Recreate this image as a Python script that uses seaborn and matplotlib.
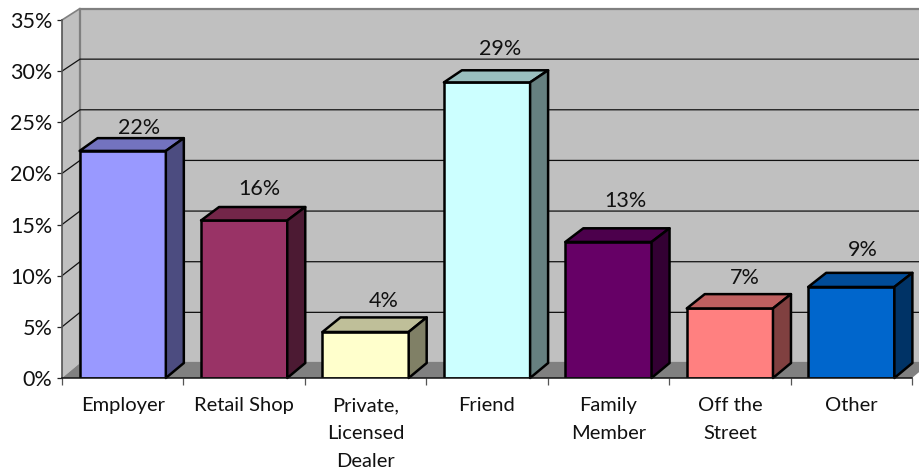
import matplotlib
matplotlib.use('Agg')
import matplotlib.pyplot as plt
from matplotlib.patches import Polygon
import pandas as pd
import seaborn as sns

# values
sources = ['Employer', 'Retail Shop', 'Private,\nLicensed\nDealer', 'Friend',
           'Family\nMember', 'Off the\nStreet', 'Other']
heights = [22.2, 15.4, 4.5, 28.9, 13.3, 6.8, 8.9]
shown = ['22%', '16%', '4%', '29%', '13%', '7%', '9%']
y_ticks = [0, 5, 10, 15, 20, 25, 30, 35]
y_labels = ['0%', '5%', '10%', '15%', '20%', '25%', '30%', '35%']

front = ['#9999FF', '#993366', '#FFFFCC', '#CCFFFF', '#660066', '#FF8080', '#0066CC']
top = ['#7373BF', '#732649', '#BFBF99', '#99BFBF', '#4C004C', '#BF6060', '#004C99']
side = ['#4C4C80', '#4C1A33', '#808066', '#668080', '#330033', '#804040', '#003366']
# label nudges in pixels, from the top centre of each bar
label_dx = [16, 15, 18, 13, 17, 15, 12]
label_dy = [23, 31, 31, 33, 41, 30, 37]

sns.set_theme(style='white')
plt.rcParams['font.family'] = ['Lato', 'DejaVu Sans']

fig = plt.figure(figsize=(9.19, 4.74), dpi=100)
ax = fig.add_axes([62 / 919, (474 - 378) / 474, 850 / 919, 358 / 474])
ax.patch.set_visible(False)

df = pd.DataFrame({'source': sources, 'share': heights})
sns.barplot(data=df, x='source', y='share', hue='source', palette=front, legend=False,
            width=0.71, saturation=1, edgecolor='black', linewidth=1.8, zorder=3, ax=ax)
ax.set_xlim(-0.5, 6.5)
ax.set_ylim(0, 35)
ax.set_xlabel('')
ax.set_ylabel('')

px_x = 7 / 850
px_y = 35 / 358
dx = 18 * px_x


def back(v):
    # depth shrinks a bit towards the top of the chart
    return v + (15 - 3.5 * v / 35) * px_y


# walls and floor
ax.add_patch(Polygon([(-0.5, 0), (-0.5 + dx, back(0)), (-0.5 + dx, back(35)), (-0.5, 35)],
                     fc='#C0C0C0', ec='none', zorder=0.5, clip_on=False))
ax.add_patch(Polygon([(-0.5 + dx, back(0)), (6.5 + dx, back(0)), (6.5 + dx, back(35)),
                      (-0.5 + dx, back(35))],
                     fc='#C0C0C0', ec='#808080', lw=1.6, zorder=0.6, clip_on=False))
ax.add_patch(Polygon([(-0.5, 0), (6.5, 0), (6.5 + dx, back(0)), (-0.5 + dx, back(0))],
                     fc='#808080', ec='none', zorder=0.8, clip_on=False))

for v in y_ticks[1:-1]:
    ax.plot([-0.5, -0.5 + dx, 6.5 + dx], [v, back(v), back(v)], color='#111111', lw=0.9,
            zorder=1, clip_on=False)
ax.plot([-0.5, -0.5 + dx], [35, back(35)], color='#808080', lw=1.2, zorder=1, clip_on=False)

# depth faces of the bars
for i, bar in enumerate(ax.patches[:len(sources)]):
    x0 = bar.get_x()
    x1 = x0 + bar.get_width()
    h = bar.get_height()
    ax.add_patch(Polygon([(x0, h), (x1, h), (x1 + dx, back(h)), (x0 + dx, back(h))],
                         fc=top[i], ec='black', lw=1.8, joinstyle='round', zorder=3, clip_on=False))
    ax.add_patch(Polygon([(x1, 0), (x1 + dx, back(0)), (x1 + dx, back(h)), (x1, h)],
                         fc=side[i], ec='black', lw=1.8, joinstyle='round', zorder=3, clip_on=False))
    ax.annotate(shown[i], xy=(i, h), xytext=(label_dx[i], label_dy[i]), textcoords='offset pixels',
                ha='center', va='center', fontsize=15.5, color='#111111', zorder=4,
                annotation_clip=False)

sns.despine(ax=ax, top=True, right=True)
ax.spines['left'].set_color('#555555')
ax.spines['left'].set_linewidth(1.2)
ax.spines['bottom'].set_color('#111111')
ax.spines['bottom'].set_linewidth(1.1)
ax.spines['bottom'].set_zorder(5)

ax.set_yticks(y_ticks)
ax.set_yticklabels(y_labels, fontsize=15.5, color='#111111')
ax.tick_params(axis='y', length=3.8, width=0.9, color='#222222', pad=3, left=True)

ax.set_xticks(range(len(sources)))
ax.set_xticklabels(sources, fontsize=14.5, color='#111111', linespacing=1.78)
ax.set_xticks([i - 0.5 for i in range(len(sources) + 1)], minor=True)
ax.tick_params(axis='x', which='major', length=0, pad=14)
ax.tick_params(axis='x', which='minor', length=5, width=0.9, color='#555555', bottom=True)

fig.savefig('out.png', dpi=100)
